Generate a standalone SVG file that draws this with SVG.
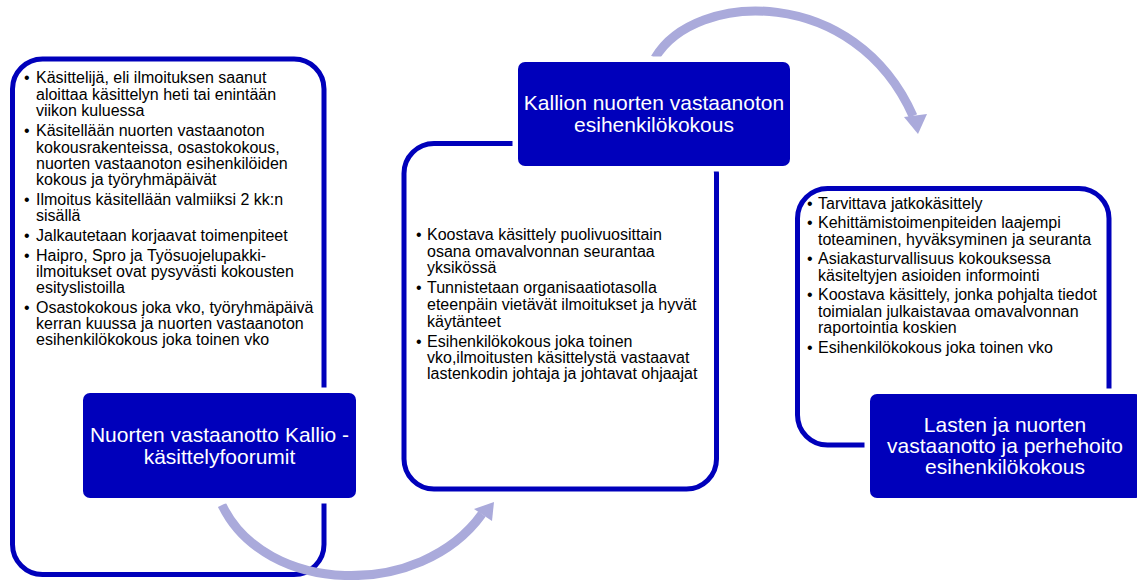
<svg xmlns="http://www.w3.org/2000/svg" width="1137" height="580" viewBox="0 0 1137 580">
<style>
.outline{fill:#FFFFFF;stroke:#0000BB;stroke-width:5}
.label{fill:#0000BB}
.gap{fill:#FFFFFF}
.lt{font-family:"Liberation Sans",Arial,sans-serif;font-size:21px;fill:#FFFFFF;text-anchor:middle}
.bt{font-family:"Liberation Sans",Arial,sans-serif;font-size:16px;fill:#000000}
.arc{fill:none;stroke:#AAAADB;stroke-width:9}
.head{fill:#AAAADB}
</style>
<rect width="1137" height="580" fill="#FFFFFF"/>
<g id="outlines">
<rect id="box-left" class="outline" x="12.5" y="59" width="311.5" height="515.5" rx="30"/>
<rect id="box-middle" class="outline" x="404" y="143.5" width="312.5" height="345.5" rx="30"/>
<rect id="box-right" class="outline" x="797.5" y="188.5" width="311.5" height="256.5" rx="30"/>
</g>
<g id="connectors">
<path class="arc" d="M 222 505 C 265 595, 420 600, 482 514"/>
<polygon class="head" points="494,502 474,509 492,521"/>
<path class="arc" d="M 655 58 C 695 -10, 855 -15, 913 116"/>
<polygon class="head" points="918,134 904,117 927,114"/>
</g>
<g id="node-left">
<rect class="gap" x="77.5" y="387.5" width="284" height="116" rx="10"/>
<rect class="label" x="83" y="393" width="273" height="105" rx="7"/>
<text class="lt" x="219.5" y="441.5">Nuorten vastaanotto Kallio -</text>
<text class="lt" x="219.5" y="464">käsittelyfoorumit</text>
<g class="bt">
<text x="24" y="83">•</text><text x="36" y="83">Käsittelijä, eli ilmoituksen saanut</text>
<text x="36" y="99.5">aloittaa käsittelyn heti tai enintään</text>
<text x="36" y="116">viikon kuluessa</text>
<text x="24" y="136">•</text><text x="36" y="136">Käsitellään nuorten vastaanoton</text>
<text x="36" y="152.5">kokousrakenteissa, osastokokous,</text>
<text x="36" y="168.5">nuorten vastaanoton esihenkilöiden</text>
<text x="36" y="184.5">kokous ja työryhmäpäivät</text>
<text x="24" y="205">•</text><text x="36" y="205">Ilmoitus käsitellään valmiiksi 2 kk:n</text>
<text x="36" y="221">sisällä</text>
<text x="24" y="241">•</text><text x="36" y="241">Jalkautetaan korjaavat toimenpiteet</text>
<text x="24" y="261">•</text><text x="36" y="261">Haipro, Spro ja Työsuojelupakki-</text>
<text x="36" y="277">ilmoitukset ovat pysyvästi kokousten</text>
<text x="36" y="293">esityslistoilla</text>
<text x="24" y="313">•</text><text x="36" y="313">Osastokokous joka vko, työryhmäpäivä</text>
<text x="36" y="329">kerran kuussa ja nuorten vastaanoton</text>
<text x="36" y="345">esihenkilökokous joka toinen vko</text>
</g>
</g>
<g id="node-middle">
<rect class="gap" x="512.5" y="56.5" width="283" height="115" rx="10"/>
<rect class="label" x="518" y="62" width="272" height="104" rx="7"/>
<text class="lt" x="654" y="110">Kallion nuorten vastaanoton</text>
<text class="lt" x="654" y="131.5">esihenkilökokous</text>
<g class="bt">
<text x="416" y="240">•</text><text x="427" y="240">Koostava käsittely puolivuosittain</text>
<text x="427" y="256.5">osana omavalvonnan seurantaa</text>
<text x="427" y="273">yksikössä</text>
<text x="416" y="293">•</text><text x="427" y="293">Tunnistetaan organisaatiotasolla</text>
<text x="427" y="310">eteenpäin vietävät ilmoitukset ja hyvät</text>
<text x="427" y="326.5">käytänteet</text>
<text x="416" y="346.5">•</text><text x="427" y="346.5">Esihenkilökokous joka toinen</text>
<text x="427" y="363">vko,ilmoitusten käsittelystä vastaavat</text>
<text x="427" y="379">lastenkodin johtaja ja johtavat ohjaajat</text>
</g>
</g>
<g id="node-right">
<rect class="gap" x="864.5" y="388.5" width="283" height="115" rx="10"/>
<rect class="label" x="870" y="394" width="272" height="104" rx="7"/>
<text class="lt" x="1005" y="431.5">Lasten ja nuorten</text>
<text class="lt" x="1005" y="452.5">vastaanotto ja perhehoito</text>
<text class="lt" x="1005" y="474">esihenkilökokous</text>
<g class="bt">
<text x="807" y="209">•</text><text x="818" y="209">Tarvittava jatkokäsittely</text>
<text x="807" y="228">•</text><text x="818" y="228">Kehittämistoimenpiteiden laajempi</text>
<text x="818" y="245">toteaminen, hyväksyminen ja seuranta</text>
<text x="807" y="264">•</text><text x="818" y="264">Asiakasturvallisuus kokouksessa</text>
<text x="818" y="280.5">käsiteltyjen asioiden informointi</text>
<text x="807" y="300">•</text><text x="818" y="300">Koostava käsittely, jonka pohjalta tiedot</text>
<text x="818" y="316.5">toimialan julkaistavaa omavalvonnan</text>
<text x="818" y="333">raportointia koskien</text>
<text x="807" y="352.5">•</text><text x="818" y="352.5">Esihenkilökokous joka toinen vko</text>
</g>
</g>
</svg>
